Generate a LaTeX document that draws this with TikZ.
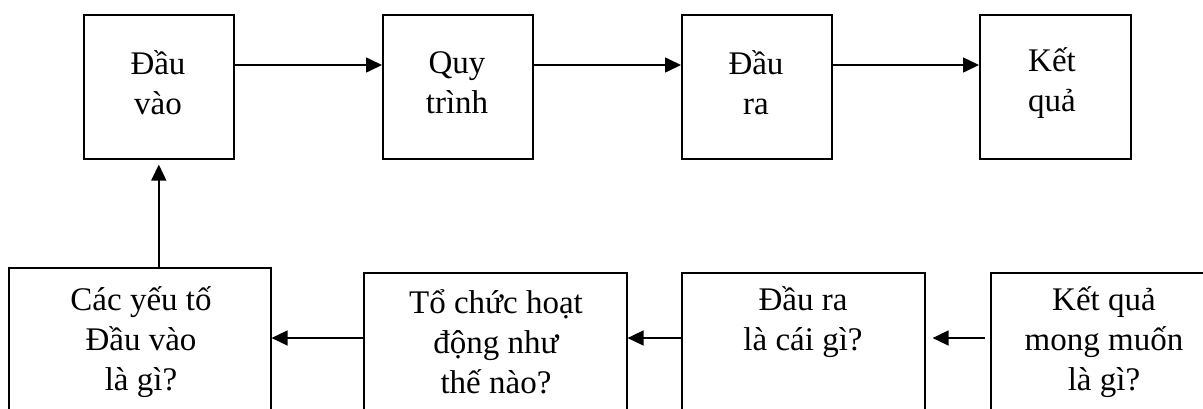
\documentclass[tikz,border=0pt]{standalone}
\usepackage{fontspec}
\setmainfont{Liberation Serif}
\usetikzlibrary{arrows.meta}
\begin{document}
\begin{tikzpicture}[x=1pt,y=-1pt,
  box/.style={draw, line width=1.6pt, rectangle, inner sep=0pt, anchor=north west},
  txt/.style={align=center, inner sep=0pt, font=\fontsize{33}{40}\selectfont},
  arr/.style={line width=1.6pt, -{Triangle[length=16pt,width=15pt]}}]
\useasboundingbox (0,0) rectangle (1203,408);
\clip (0,0) rectangle (1203,408);
\fill[white] (0,0) rectangle (1203,408);
% top row
\node[box, minimum width=150pt, minimum height=144pt] (b1) at (83,14) {};
\node[box, minimum width=150pt, minimum height=144pt] (b2) at (382,14) {};
\node[box, minimum width=150pt, minimum height=144pt] (b3) at (681,14) {};
\node[box, minimum width=151pt, minimum height=144pt] (b4) at (979,14) {};
\node[txt] (t1) at (158,83) {Đầu\\vào};
\node[txt] (t2) at (457,83) {Quy\\trình};
\node[txt] (t3) at (756,83) {Đầu\\ra};
\node[txt] (t4) at (1052,83) {Kết\\quả};
% bottom row
\node[box, minimum width=262pt, minimum height=160pt] (b5) at (8,267) {};
\node[box, minimum width=263pt, minimum height=160pt] (b6) at (363,272) {};
\node[box, minimum width=243pt, minimum height=160pt] (b7) at (681,272) {};
\node[box, minimum width=230pt, minimum height=160pt] (b8) at (990,272) {};
\node[txt] (t5) at (141,342) {Các yếu tố\\Đầu vào\\là gì?};
\node[txt] (t6) at (496,342) {Tổ chức hoạt\\động như\\thế nào?};
\node[txt] (t7) at (803,322) {Đầu ra\\là cái gì?};
\node[txt] (t8) at (1104,342) {Kết quả\\mong muốn\\là gì?};
\coordinate (ytop) at (0,65);
\coordinate (ybot) at (0,338);
% arrows
\draw[arr] (b1.east |- ytop) -- (b2.west |- ytop);
\draw[arr] (b2.east |- ytop) -- (b3.west |- ytop);
\draw[arr] (b3.east |- ytop) -- (b4.west |- ytop);
\draw[arr, shorten >=5pt] (b1.south |- b5.north) -- (b1.south);
\draw[arr] (b6.west |- ybot) -- (b5.east |- ybot);
\draw[arr] (b7.west |- ybot) -- (b6.east |- ybot);
\draw[arr, shorten <=5pt, shorten >=7pt] (b8.west |- ybot) -- (b7.east |- ybot);
\end{tikzpicture}
\end{document}
